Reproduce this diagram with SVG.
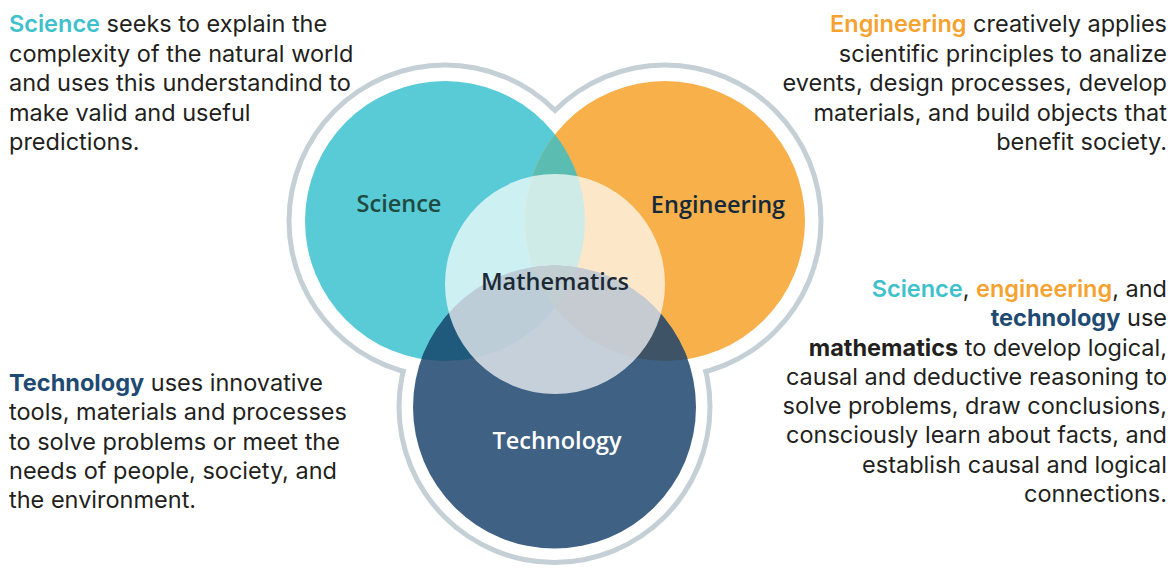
<svg xmlns="http://www.w3.org/2000/svg" width="1175" height="568" viewBox="0 0 1175 568">
<style>
.body{font-family:Inter,"Liberation Sans",sans-serif;font-size:23.5px;fill:#231f20;}
.r{text-anchor:end;}
.lbl{font-family:"Open Sans","DejaVu Sans",sans-serif;font-size:23.5px;font-weight:600;text-anchor:middle;}
.sci{fill:#3fc1cc;font-weight:600;}
.eng{fill:#f6a230;font-weight:600;}
.tec{fill:#1f4a72;font-weight:700;}
.mat{fill:#231f20;font-weight:700;}
</style>
<defs>
<clipPath id="cS"><circle cx="445" cy="221" r="140"/></clipPath>
<clipPath id="cE"><circle cx="665" cy="221" r="140"/></clipPath>
</defs>
<rect width="1175" height="568" fill="#ffffff"/>
<g id="outline">
<circle cx="445" cy="221" r="158.5" fill="#c5d0d6"/>
<circle cx="665" cy="221" r="158.5" fill="#c5d0d6"/>
<circle cx="554.5" cy="407" r="158" fill="#c5d0d6"/>
<circle cx="445" cy="221" r="153.5" fill="#ffffff"/>
<circle cx="665" cy="221" r="153.5" fill="#ffffff"/>
<circle cx="554.5" cy="407" r="153" fill="#ffffff"/>
</g>
<g id="science">
<circle cx="445" cy="221" r="140" fill="#59cbd6"/>
</g>
<g id="engineering">
<circle cx="665" cy="221" r="140" fill="#f8b04b"/>
<circle cx="665" cy="221" r="140" fill="#5bbcb2" clip-path="url(#cS)"/>
</g>
<g id="technology">
<circle cx="554.5" cy="407" r="141.5" fill="#3f6184"/>
<circle cx="554.5" cy="407" r="141.5" fill="#1f597c" clip-path="url(#cS)"/>
<circle cx="554.5" cy="407" r="141.5" fill="#3e5366" clip-path="url(#cE)"/>
<g clip-path="url(#cS)"><circle cx="554.5" cy="407" r="141.5" fill="#2f5a6a" clip-path="url(#cE)"/></g>
</g>
<g id="mathematics">
<circle cx="555" cy="284" r="110" fill="#ffffff" fill-opacity="0.7"/>
</g>
<g id="labels">
<text class="lbl" x="399" y="212" fill="#1e4a40">Science</text>
<text class="lbl" x="718" y="213" fill="#142a3b">Engineering</text>
<text class="lbl" x="555" y="290" fill="#1b2a35">Mathematics</text>
<text class="lbl" x="557" y="449" fill="#ffffff">Technology</text>
</g>
<g id="text-science">
<text class="body" x="9" y="32"><tspan class="sci">Science</tspan> seeks to explain the</text>
<text class="body" x="9" y="62">complexity of the natural world</text>
<text class="body" x="9" y="91">and uses this understandind to</text>
<text class="body" x="9" y="121">make valid and useful</text>
<text class="body" x="9" y="150">predictions.</text>
</g>
<g id="text-engineering">
<text class="body r" x="1167" y="32"><tspan class="eng">Engineering</tspan> creatively applies</text>
<text class="body r" x="1167" y="62">scientific principles to analize</text>
<text class="body r" x="1167" y="91">events, design processes, develop</text>
<text class="body r" x="1167" y="121">materials, and build objects that</text>
<text class="body r" x="1167" y="150">benefit society.</text>
</g>
<g id="text-technology">
<text class="body" x="9" y="391"><tspan class="tec">Technology</tspan> uses innovative</text>
<text class="body" x="9" y="420">tools, materials and processes</text>
<text class="body" x="9" y="450">to solve problems or meet the</text>
<text class="body" x="9" y="479">needs of people, society, and</text>
<text class="body" x="9" y="508">the environment.</text>
</g>
<g id="text-mathematics">
<text class="body r" x="1167" y="297"><tspan class="sci">Science</tspan>, <tspan class="eng">engineering</tspan>, and</text>
<text class="body r" x="1167" y="326"><tspan class="tec">technology</tspan> use</text>
<text class="body r" x="1167" y="356"><tspan class="mat">mathematics</tspan> to develop logical,</text>
<text class="body r" x="1167" y="385">causal and deductive reasoning to</text>
<text class="body r" x="1167" y="414">solve problems, draw conclusions,</text>
<text class="body r" x="1167" y="443">consciously learn about facts, and</text>
<text class="body r" x="1167" y="473">establish causal and logical</text>
<text class="body r" x="1167" y="502">connections.</text>
</g>
<g id="connectors"/>
</svg>
